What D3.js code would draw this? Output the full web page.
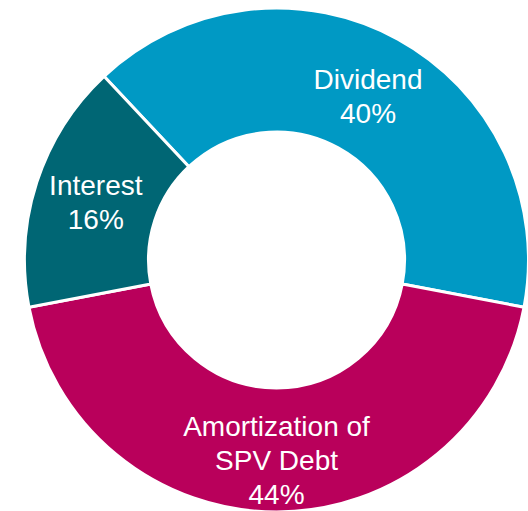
<!DOCTYPE html>
<html>
<head>
<meta charset="utf-8">
<script src="https://cdn.jsdelivr.net/npm/d3@7"></script>
<style>
  body { margin: 0; background: #fff; }
  svg text { font-family: "Liberation Sans", Arial, sans-serif; fill: #fff; }
</style>
</head>
<body>
<div id="chart"></div>
<script>
var width = 528, height = 511;

// data
var categories = ["Dividend", "Amortization of SPV Debt", "Interest"];
var labelLines = [["Dividend"], ["Amortization of", "SPV Debt"], ["Interest"]];
var shares = [40, 44, 16];
var colors = ["#0099c4", "#b9005b", "#006674"];

// layout
var cx = 276.5, cy = 260;
var outerR = 252, innerR = 128;
var labelNudgeY = [2, 10, 1]; // small manual tweaks, like Excel's label placement

var svg = d3.select("#chart").append("svg")
    .attr("width", width)
    .attr("height", height);

var g = svg.append("g")
    .attr("transform", "translate(" + cx + "," + cy + ")");

var startDeg = -43.2;
var pie = d3.pie()
    .sort(null)
    .startAngle(startDeg * Math.PI / 180)
    .endAngle((startDeg + 360) * Math.PI / 180);

var arc = d3.arc().innerRadius(innerR).outerRadius(outerR);
var labelArc = d3.arc().innerRadius(190).outerRadius(190);

var arcs = pie(shares);

g.selectAll("path")
    .data(arcs)
    .enter().append("path")
    .attr("d", arc)
    .attr("fill", function(d, i) { return colors[i]; })
    .attr("stroke", "#fff")
    .attr("stroke-width", 3)
    .attr("stroke-linejoin", "miter");

var fontSize = 28, lineH = 34;

var labels = g.selectAll("text.lbl")
    .data(arcs)
    .enter().append("text")
    .attr("class", "lbl")
    .attr("text-anchor", "middle")
    .style("font-size", fontSize + "px")
    .attr("transform", function(d, i) {
        var c = labelArc.centroid(d);
        var n = labelLines[i].length + 1;
        // centre the block of lines on the centroid
        var y0 = c[1] - (n - 1) * lineH / 2 + fontSize * 0.36 + labelNudgeY[i];
        return "translate(" + c[0] + "," + y0 + ")";
    });

labels.each(function(d, i) {
    var t = d3.select(this);
    var lines = labelLines[i].concat([shares[i] + "%"]);
    lines.forEach(function(s, k) {
        t.append("tspan")
            .attr("x", 0)
            .attr("y", k * lineH)
            .text(s);
    });
});
</script>
</body>
</html>
